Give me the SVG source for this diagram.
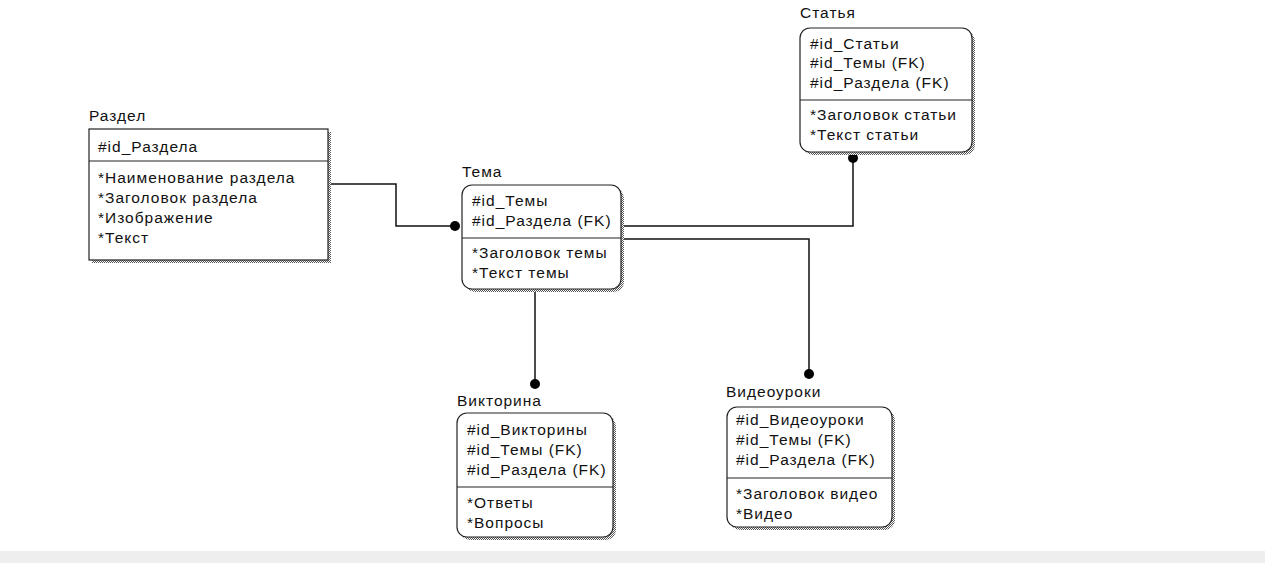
<svg xmlns="http://www.w3.org/2000/svg" width="1265" height="563" viewBox="0 0 1265 563">
<defs>
<pattern id="dither" width="2" height="2" patternUnits="userSpaceOnUse">
<rect width="2" height="2" fill="#ffffff"/>
<rect width="1" height="1" fill="#555555"/>
<rect x="1" y="1" width="1" height="1" fill="#555555"/>
</pattern>
</defs>
<style>
.box{fill:#ffffff;stroke:#222222;stroke-width:1.2}
.shadow{fill:url(#dither)}
.div{stroke:#222222;stroke-width:1.2}
.t{font-family:"Liberation Sans",Arial,sans-serif;font-size:15.5px;letter-spacing:1px;fill:#111111}
.conn{fill:none;stroke:#111111;stroke-width:1.5}
.dot{fill:#000000}
</style>
<rect width="1265" height="563" fill="#ffffff"/>
<rect x="0" y="551" width="1265" height="12" fill="#eeeeee"/>

<g id="connectors">
<polyline class="conn" points="328,184 396,184 396,226 455,226"/>
<circle class="dot" cx="455" cy="226" r="5"/>
<polyline class="conn" points="621,226 853,226 853,158"/>
<circle class="dot" cx="853" cy="158" r="5"/>
<polyline class="conn" points="621,239 809,239 809,374"/>
<circle class="dot" cx="809" cy="374" r="5"/>
<polyline class="conn" points="535,289 535,384"/>
<circle class="dot" cx="535" cy="384" r="5"/>
</g>

<g id="razdel">
<rect class="shadow" x="92" y="132" width="239" height="131"/>
<rect class="box" x="89" y="129" width="239" height="131"/>
<line class="div" x1="89" y1="161" x2="328" y2="161"/>
<text class="t" x="89" y="121">Раздел</text>
<text class="t" x="98" y="152">#id_Раздела</text>
<text class="t" x="98" y="183">*Наименование раздела</text>
<text class="t" x="98" y="203">*Заголовок раздела</text>
<text class="t" x="98" y="223">*Изображение</text>
<text class="t" x="98" y="243">*Текст</text>
</g>

<g id="tema">
<rect class="shadow" x="465" y="188" width="159" height="104" rx="10"/>
<rect class="box" x="462" y="185" width="159" height="104" rx="10"/>
<line class="div" x1="462" y1="238" x2="621" y2="238"/>
<text class="t" x="462" y="177">Тема</text>
<text class="t" x="472" y="206">#id_Темы</text>
<text class="t" x="472" y="226">#id_Раздела (FK)</text>
<text class="t" x="472" y="258">*Заголовок темы</text>
<text class="t" x="472" y="278">*Текст темы</text>
</g>

<g id="statya">
<rect class="shadow" x="803" y="31" width="172" height="124" rx="10"/>
<rect class="box" x="800" y="28" width="172" height="124" rx="10"/>
<line class="div" x1="800" y1="100" x2="972" y2="100"/>
<text class="t" x="800" y="18">Статья</text>
<text class="t" x="810" y="49">#id_Статьи</text>
<text class="t" x="810" y="68">#id_Темы (FK)</text>
<text class="t" x="810" y="88">#id_Раздела (FK)</text>
<text class="t" x="810" y="120">*Заголовок статьи</text>
<text class="t" x="810" y="140">*Текст статьи</text>
</g>

<g id="viktorina">
<rect class="shadow" x="460" y="416" width="156" height="124" rx="10"/>
<rect class="box" x="457" y="413" width="156" height="124" rx="10"/>
<line class="div" x1="457" y1="487" x2="613" y2="487"/>
<text class="t" x="457" y="406">Викторина</text>
<text class="t" x="467" y="435">#id_Викторины</text>
<text class="t" x="467" y="455">#id_Темы (FK)</text>
<text class="t" x="467" y="475">#id_Раздела (FK)</text>
<text class="t" x="467" y="508">*Ответы</text>
<text class="t" x="467" y="528">*Вопросы</text>
</g>

<g id="videouroki">
<rect class="shadow" x="730" y="410" width="165" height="120" rx="10"/>
<rect class="box" x="727" y="407" width="165" height="120" rx="10"/>
<line class="div" x1="727" y1="478" x2="892" y2="478"/>
<text class="t" x="726" y="397">Видеоуроки</text>
<text class="t" x="736" y="425">#id_Видеоуроки</text>
<text class="t" x="736" y="445">#id_Темы (FK)</text>
<text class="t" x="736" y="465">#id_Раздела (FK)</text>
<text class="t" x="736" y="499">*Заголовок видео</text>
<text class="t" x="736" y="519">*Видео</text>
</g>
</svg>
